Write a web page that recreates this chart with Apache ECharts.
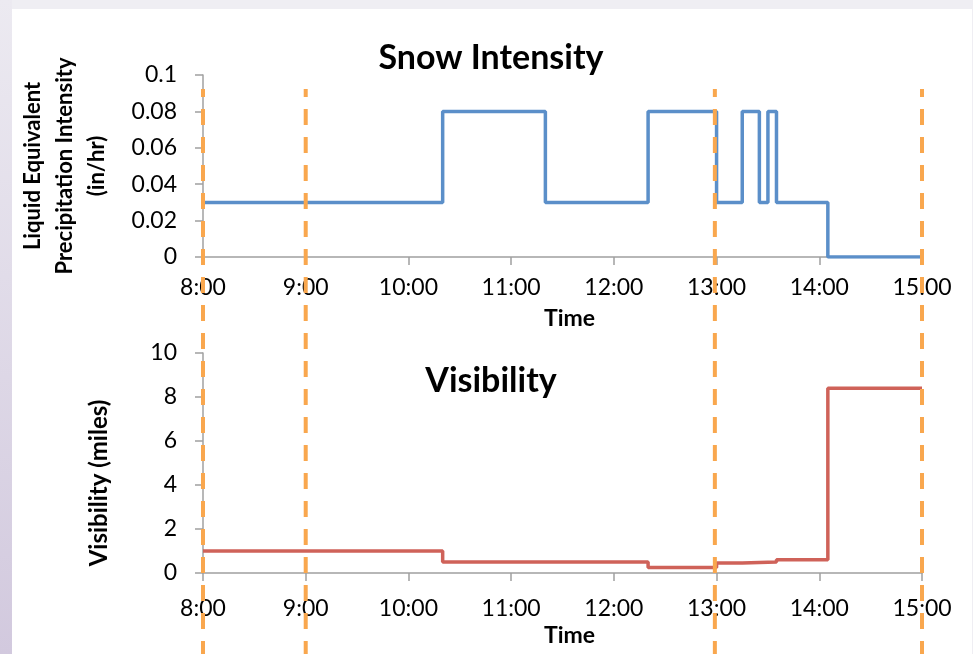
<!DOCTYPE html>
<html><head><meta charset="utf-8">
<script src="https://cdn.jsdelivr.net/npm/echarts@6/dist/echarts.min.js"></script>
<style>
html,body{margin:0;padding:0;width:973px;height:654px;overflow:hidden;background:#EFEEF3;}
#side{position:absolute;left:0;top:0;width:12px;height:654px;background:linear-gradient(#ECEAF1,#D2C9DE);}
#panel{position:absolute;left:12px;top:9px;width:960px;height:645px;background:#fff;}
#chart{position:absolute;left:0;top:0;width:973px;height:654px;}
</style></head><body>
<div id="side"></div><div id="panel"></div><div id="chart"></div>
<script>
// ---- data ----
const snowTimes  = ['8:00','10:20','11:20','12:20','13:00','13:15','13:25','13:30','13:35','14:05','15:00'];
const snowValues = [0.03, 0.08, 0.03, 0.08, 0.03, 0.08, 0.03, 0.08, 0.03, 0, 0];
const visTimes   = ['8:00','10:20','12:20','13:00','13:15','13:35','14:05','15:00'];
const visValues  = [1.0, 0.5, 0.25, 0.45, 0.5, 0.6, 8.4, 8.4];
const markerTimes = ['8:00','9:00','12:59','15:00'];
const snowTitle = 'Snow Intensity';
const visTitle = 'Visibility';
const snowAxisName = 'Liquid Equivalent\nPrecipitation Intensity\n(in/hr)';
const visAxisName = 'Visibility (miles)';
const timeAxisName = 'Time';

// ---- helpers ----
const toHours = s => { const p = s.split(':'); return +p[0] + (+p[1]) / 60; };
const pairs = (ts, vs) => ts.map((t, i) => [toHours(t), vs[i]]);

const FONT = 'Lato';
const axisColor = '#A0A0A0';
const axisLineStyle = { color: axisColor, width: 1.5 };

function xAxisCfg(gridIndex, labelMargin, nameGap) {
  return {
    type: 'value', gridIndex, min: 8, max: 15, interval: 1,
    axisLine: { show: true, lineStyle: axisLineStyle },
    axisTick: { show: true, length: 8, lineStyle: axisLineStyle },
    splitLine: { show: false },
    axisLabel: { fontFamily: FONT, fontSize: 23, color: '#000', margin: labelMargin,
      formatter: v => v + ':00' },
    name: timeAxisName, nameLocation: 'middle', nameGap,
    nameTextStyle: { fontFamily: FONT, fontSize: 23, fontWeight: 'bold', color: '#000', padding: [0, 0, 0, 14] }
  };
}
function yAxisCfg(gridIndex, max, interval, name, gap, fs, lh, pad) {
  return {
    type: 'value', gridIndex, min: 0, max, interval,
    axisLine: { show: true, lineStyle: axisLineStyle },
    axisTick: { show: true, length: 8, lineStyle: axisLineStyle },
    splitLine: { show: false },
    axisLabel: { fontFamily: FONT, fontSize: 23, color: '#000', margin: 26 },
    name, nameLocation: 'middle', nameGap: gap, nameRotate: 90,
    nameTextStyle: { fontFamily: FONT, fontSize: fs, fontWeight: 'bold', color: '#000', lineHeight: lh, padding: pad }
  };
}

const markerSeries = markerTimes.map(t => ({
  type: 'line', xAxisIndex: 2, yAxisIndex: 2, symbol: 'none', silent: true, z: 10,
  data: [[toHours(t), 1], [toHours(t), 0]],
  lineStyle: { color: '#F9A74E', width: 4, type: [16, 12], dashOffset: 8 }
}));

const chart = echarts.init(document.getElementById('chart'), null, { renderer: 'canvas' });
chart.setOption({
  animation: false,
  backgroundColor: 'transparent',
  grid: [
    { left: 203, right: 51, top: 75, height: 182 },
    { left: 203, right: 51, top: 353, height: 220 },
    { left: 203, right: 51, top: 89, bottom: 0 }
  ],
  xAxis: [xAxisCfg(0, 19, 50), xAxisCfg(1, 24, 51),
    { type: 'value', gridIndex: 2, min: 8, max: 15, show: false }],
  yAxis: [yAxisCfg(0, 0.1, 0.02, snowAxisName, 90, 22, 32, [0, 0, 0, 0]),
    yAxisCfg(1, 10, 2, visAxisName, 91, 24, 26, [0, 40, 0, 0]),
    { type: 'value', gridIndex: 2, min: 0, max: 1, show: false }],
  graphic: [
    { type: 'text', x: 491, y: 58, style: { text: snowTitle, font: 'bold 34px Lato', fill: '#000', align: 'center', verticalAlign: 'middle' } },
    { type: 'text', x: 491, y: 381, style: { text: visTitle, font: 'bold 34px Lato', fill: '#000', align: 'center', verticalAlign: 'middle' } }
  ],
  series: [
    { type: 'line', xAxisIndex: 0, yAxisIndex: 0, step: 'end', symbol: 'none', z: 3,
      data: pairs(snowTimes, snowValues), lineStyle: { color: '#5B8FC9', width: 3.5 } },
    { type: 'line', xAxisIndex: 1, yAxisIndex: 1, step: 'end', symbol: 'none', z: 3,
      data: pairs(visTimes, visValues), lineStyle: { color: '#CF6259', width: 3.5 } },
    ...markerSeries
  ]
});
</script></body></html>
